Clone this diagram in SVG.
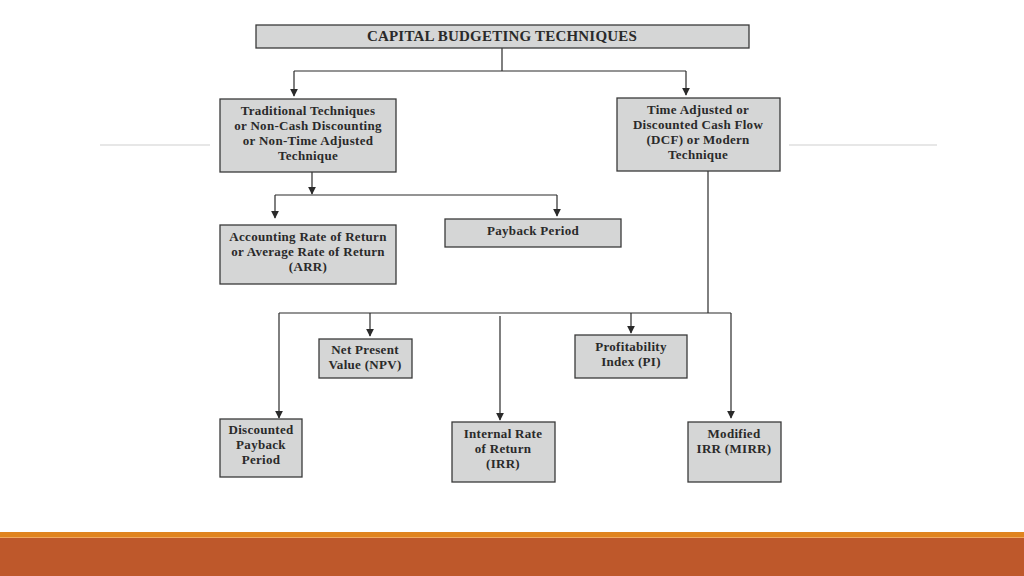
<svg xmlns="http://www.w3.org/2000/svg" width="1024" height="576" viewBox="0 0 1024 576">
<defs>
<style>
.box{fill:#d5d6d6;stroke:#3a3a3a;stroke-width:1.3}
.t{font-family:"Liberation Serif","Times New Roman",serif;font-weight:bold;font-size:13px;letter-spacing:0.3px;fill:#2a2a2a;text-anchor:middle}
.title{font-size:15px;letter-spacing:0.2px}
.c{fill:none;stroke:#2a2a2a;stroke-width:1.2}
.g{stroke:#d0d0d0;stroke-width:1.2}
</style>
<marker id="ah" viewBox="0 0 10 10" refX="9" refY="5" markerWidth="8" markerHeight="8" orient="auto" markerUnits="userSpaceOnUse">
<path d="M0,0 L10,5 L0,10 z" fill="#2a2a2a"/>
</marker>
</defs>
<rect width="1024" height="576" fill="#ffffff"/>
<line class="g" x1="100" y1="145" x2="210" y2="145"/>
<line class="g" x1="789" y1="145" x2="937" y2="145"/>
<rect x="0" y="532" width="1024" height="5" fill="#e0841f"/>
<rect x="0" y="537" width="1024" height="1" fill="#f0a860"/>
<rect x="0" y="538" width="1024" height="38" fill="#be582b"/>
<g id="connectors">
<polyline class="c" points="502,48 502,71"/>
<polyline class="c" points="294,71 686,71"/>
<line class="c" x1="294" y1="71" x2="294" y2="96" marker-end="url(#ah)"/>
<line class="c" x1="686" y1="71" x2="686" y2="95" marker-end="url(#ah)"/>
<line class="c" x1="312" y1="172" x2="312" y2="194" marker-end="url(#ah)"/>
<polyline class="c" points="275,195 557,195"/>
<line class="c" x1="275" y1="195" x2="275" y2="218" marker-end="url(#ah)"/>
<line class="c" x1="557" y1="195" x2="557" y2="216" marker-end="url(#ah)"/>
<polyline class="c" points="708,171 708,313"/>
<polyline class="c" points="279,313 731,313"/>
<line class="c" x1="279" y1="313" x2="279" y2="418" marker-end="url(#ah)"/>
<line class="c" x1="370" y1="313" x2="370" y2="336" marker-end="url(#ah)"/>
<line class="c" x1="500" y1="316" x2="500" y2="420" marker-end="url(#ah)"/>
<line class="c" x1="631" y1="313" x2="631" y2="333" marker-end="url(#ah)"/>
<line class="c" x1="731" y1="313" x2="731" y2="418" marker-end="url(#ah)"/>
</g>
<g id="title">
<rect class="box" x="256" y="25" width="493" height="23"/>
<text class="t title" x="502" y="41">CAPITAL BUDGETING TECHNIQUES</text>
</g>
<g id="traditional">
<rect class="box" x="220" y="99" width="176" height="73"/>
<text class="t" x="308" y="115">Traditional Techniques</text>
<text class="t" x="308" y="130">or Non-Cash Discounting</text>
<text class="t" x="308" y="145">or Non-Time Adjusted</text>
<text class="t" x="308" y="160">Technique</text>
</g>
<g id="dcf">
<rect class="box" x="617" y="98" width="163" height="73"/>
<text class="t" x="698" y="114">Time Adjusted or</text>
<text class="t" x="698" y="129">Discounted Cash Flow</text>
<text class="t" x="698" y="144">(DCF) or Modern</text>
<text class="t" x="698" y="159">Technique</text>
</g>
<g id="arr">
<rect class="box" x="220" y="225" width="176" height="59"/>
<text class="t" x="308" y="241">Accounting Rate of Return</text>
<text class="t" x="308" y="256">or Average Rate of Return</text>
<text class="t" x="308" y="271">(ARR)</text>
</g>
<g id="payback">
<rect class="box" x="445" y="219" width="176" height="28"/>
<text class="t" x="533" y="235">Payback Period</text>
</g>
<g id="dpp">
<rect class="box" x="220" y="419" width="82" height="58"/>
<text class="t" x="261" y="434">Discounted</text>
<text class="t" x="261" y="449">Payback</text>
<text class="t" x="261" y="464">Period</text>
</g>
<g id="npv">
<rect class="box" x="319" y="339" width="93" height="39"/>
<text class="t" x="365" y="354">Net Present</text>
<text class="t" x="365" y="369">Value (NPV)</text>
</g>
<g id="irr">
<rect class="box" x="452" y="422" width="103" height="60"/>
<text class="t" x="503" y="438">Internal Rate</text>
<text class="t" x="503" y="453">of Return</text>
<text class="t" x="503" y="468">(IRR)</text>
</g>
<g id="pi">
<rect class="box" x="575" y="335" width="112" height="43"/>
<text class="t" x="631" y="351">Profitability</text>
<text class="t" x="631" y="366">Index (PI)</text>
</g>
<g id="mirr">
<rect class="box" x="688" y="422" width="93" height="60"/>
<text class="t" x="734" y="438">Modified</text>
<text class="t" x="734" y="453">IRR (MIRR)</text>
</g>
</svg>
